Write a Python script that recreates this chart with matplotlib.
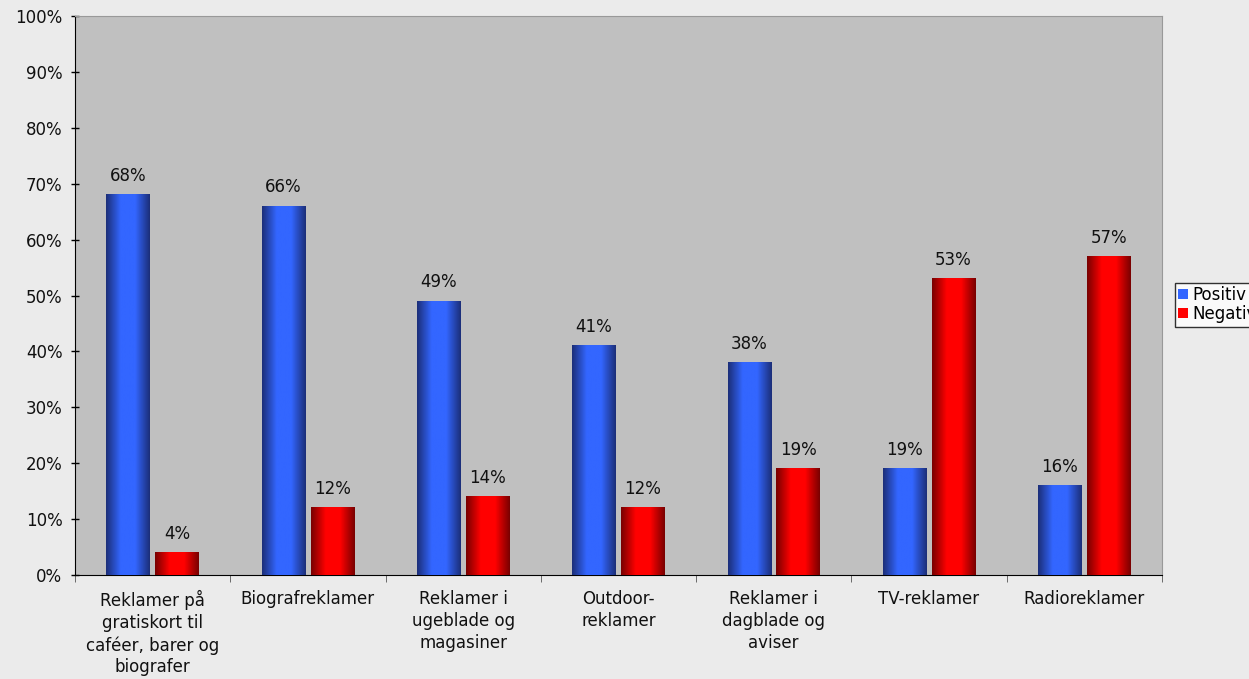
import numpy as np
import matplotlib.pyplot as plt
from matplotlib.colors import LinearSegmentedColormap

plt.rcParams["font.family"] = ["DejaVu Sans"]

categories = [
    "Reklamer på\ngratiskort til\ncaféer, barer og\nbiografer",
    "Biografreklamer",
    "Reklamer i\nugeblade og\nmagasiner",
    "Outdoor-\nreklamer",
    "Reklamer i\ndagblade og\naviser",
    "TV-reklamer",
    "Radioreklamer",
]
positiv = [68, 66, 49, 41, 38, 19, 16]
negativ = [4, 12, 14, 12, 19, 53, 57]
series_names = ["Positiv", "Negativ"]

FS = 12

blue_cmap = LinearSegmentedColormap.from_list("b", ["#1c2f7a", "#3366ff", "#3366ff", "#1c2f7a"])
red_cmap = LinearSegmentedColormap.from_list("r", ["#7a0000", "#ff0000", "#ff0000", "#7a0000"])

fig = plt.figure(figsize=(12.49, 6.79), dpi=100, facecolor="#ebebeb")
ax = fig.add_axes([0.0600, 0.1532, 0.8703, 0.8232])
ax.set_facecolor("#c0c0c0")

x = np.arange(len(categories))
w = 0.28
off = 0.157
b1 = ax.bar(x - off, positiv, w, color="#3366ff", label=series_names[0], zorder=2)
b2 = ax.bar(x + off, negativ, w, color="#ff0000", label=series_names[1], zorder=2)

grad = np.linspace(0, 1, 64).reshape(1, -1)
for bars, cmap in ((b1, blue_cmap), (b2, red_cmap)):
    for p in bars:
        x0, y0 = p.get_x(), p.get_y()
        ax.imshow(grad, cmap=cmap, aspect="auto", zorder=3,
                  extent=(x0, x0 + p.get_width(), y0, y0 + p.get_height()))
        ax.annotate(f"{p.get_height():.0f}%", (x0 + p.get_width() / 2, p.get_height()),
                    xytext=(0, 7), textcoords="offset points", ha="center",
                    va="bottom", fontsize=FS, color="#111111")

ax.set_xlim(-0.5, len(categories) - 0.5)
ax.set_ylim(0, 100)
ax.set_yticks(np.arange(0, 101, 10))
ax.set_yticklabels([f"{v}%" for v in range(0, 101, 10)], fontsize=FS, color="#111111")
ax.set_xticks(x)
ax.set_xticklabels(categories, fontsize=FS, linespacing=1.27, color="#111111")
ax.tick_params(axis="x", length=0, pad=11)
ax.set_xticks(np.arange(-0.5, len(categories), 1), minor=True)
ax.tick_params(axis="x", which="minor", length=5, direction="out", color="#555555")
ax.tick_params(axis="y", length=6, direction="inout", width=1, pad=6)

for s in ("top", "right"):
    ax.spines[s].set_color("#999999")
    ax.spines[s].set_linewidth(0.8)
for s in ("left", "bottom"):
    ax.spines[s].set_color("black")

fig.legend(loc="upper left", bbox_to_anchor=(1175 / 1249, 1 - 283 / 679),
           fontsize=FS, frameon=True, fancybox=False, edgecolor="black",
           facecolor="white", handlelength=0.55, handleheight=0.55,
           handletextpad=0.3, borderpad=0.2, labelspacing=0.05, borderaxespad=0)

fig.savefig("out.png", dpi=100, facecolor=fig.get_facecolor())
